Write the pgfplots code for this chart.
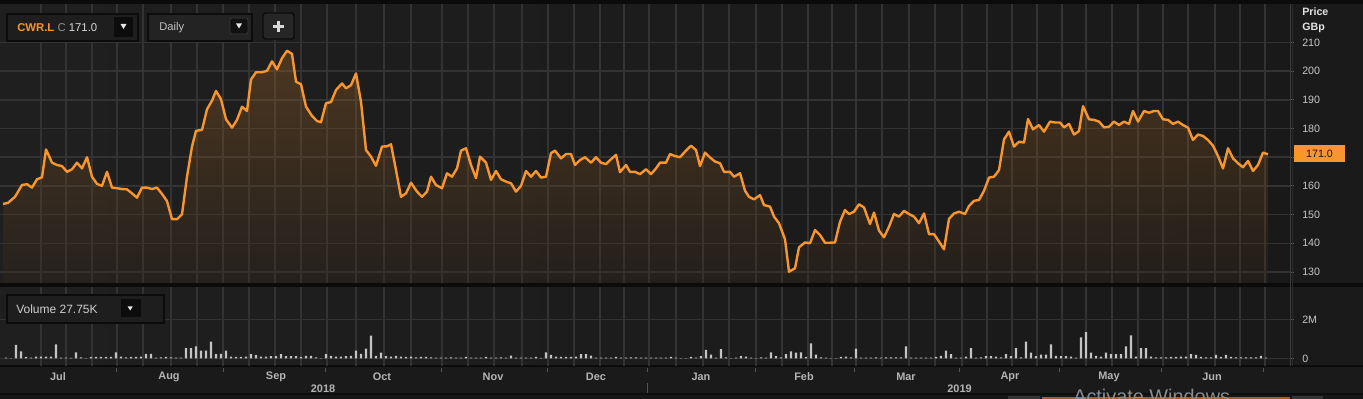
\documentclass[border=0pt]{standalone}
\usepackage{fontspec}
\setmainfont{Liberation Sans}
\usepackage{pgfplots}
\usepackage{pgfplotstable}
\pgfplotsset{compat=1.18}
\definecolor{bg}{HTML}{1C1C1C}
\definecolor{gridc}{HTML}{333333}
\definecolor{orng}{HTML}{F7952F}
\definecolor{areatop}{HTML}{B77128}
\definecolor{areabot}{HTML}{35281B}
\definecolor{lbl}{HTML}{C8C8C8}
\definecolor{mlbl}{HTML}{B4B4B4}
\definecolor{volc}{HTML}{C4C4C4}
\definecolor{blk}{HTML}{0B0B0B}
\definecolor{sep}{HTML}{3A3A3A}
\definecolor{sep2}{HTML}{2A2A2A}
\definecolor{tickc}{HTML}{5A5A5A}
\definecolor{bgl}{HTML}{1F1F1F}
\definecolor{bgr}{HTML}{191919}
\definecolor{bgs}{HTML}{1A1A1A}
\definecolor{dk1}{HTML}{0E0E0E}
\definecolor{dk2}{HTML}{161616}
\definecolor{dk3}{HTML}{0C0C0C}
\definecolor{dk4}{HTML}{111111}
\definecolor{stick}{HTML}{555555}
\definecolor{handle}{HTML}{353535}
\definecolor{scroll}{HTML}{A85E1C}
\definecolor{wm}{HTML}{8C8C8C}
\definecolor{boxa}{HTML}{1E1E1E}
\definecolor{boxb}{HTML}{232323}
\definecolor{boxc}{HTML}{262626}
\definecolor{tri}{HTML}{E8E8E8}
\definecolor{wtxt}{HTML}{E4E4E4}
\definecolor{ltxt}{HTML}{D8D8D8}
\definecolor{gtxt}{HTML}{8E8E8E}
\definecolor{dtxt}{HTML}{C0C0C0}
\definecolor{vtxt}{HTML}{CFCFCF}
\definecolor{btxt}{HTML}{151515}
\newcommand\fs[1]{\fontsize{#1}{#1}\selectfont}

\pgfplotstableread{
x y
3 153.7
8 154.1
15 156.2
22 160.3
27 160.6
32 159.4
37 162.3
42 163.0
46 172.7
52 168.1
57 167.3
62 166.9
67 164.9
72 165.8
77 168.1
82 166.1
87 170.0
92 163.2
97 160.7
102 160.0
107 164.9
112 159.4
117 159.2
122 158.9
127 158.8
132 157.4
137 155.9
142 159.4
147 159.4
152 158.9
157 159.4
162 157.2
167 154.7
172 148.4
177 148.4
182 150.1
187 163.2
192 173.7
196 179.2
202 179.5
207 186.7
212 189.7
216 193.1
221 190.2
226 183.2
232 180.3
237 183.0
242 187.6
247 186.1
251 197.1
256 199.6
262 199.6
267 200.1
272 203.4
277 200.6
282 204.5
287 207.1
292 206.0
296 196.3
301 195.4
306 187.6
312 184.4
317 182.6
321 182.2
326 188.8
331 189.2
336 193.4
342 195.7
346 194.0
351 195.1
356 199.2
361 189.3
366 172.5
371 170.2
376 167.0
382 173.7
387 173.8
391 174.5
396 165.5
401 156.2
406 157.4
411 161.1
417 158.0
422 156.2
427 158.0
431 163.2
436 160.3
442 159.2
447 164.4
452 163.2
457 166.1
461 172.3
466 173.1
471 167.3
476 162.7
480 170.2
486 168.1
491 162.1
496 165.2
501 162.3
506 161.5
511 160.9
516 158.0
521 160.0
526 165.2
531 163.2
536 165.2
541 162.9
546 163.2
551 171.4
555 172.3
561 169.6
566 171.1
571 171.1
575 167.3
580 169.0
585 170.0
591 168.1
596 170.0
601 168.1
606 167.6
611 169.3
616 170.8
620 164.8
626 167.3
630 164.9
635 164.9
640 164.1
646 165.8
651 164.1
656 166.1
660 168.1
666 168.1
670 171.1
675 170.4
680 170.0
686 172.3
691 174.0
696 172.5
700 166.9
705 171.6
710 169.9
715 168.5
720 167.9
724 164.9
730 164.9
734 163.2
740 164.4
745 158.3
749 156.2
754 155.3
760 156.8
764 153.3
770 152.8
774 149.3
779 147.0
785 141.4
789 130.1
795 131.3
799 138.6
805 140.3
810 140.0
815 144.6
820 142.9
825 140.2
830 140.2
835 140.3
840 147.5
845 151.6
849 150.2
854 151.0
859 153.6
864 152.5
870 146.7
874 150.7
879 144.4
884 142.1
889 145.8
894 150.2
899 149.3
904 151.3
909 150.2
914 149.3
919 147.0
924 150.4
929 143.2
934 143.2
939 140.6
944 137.9
949 148.5
954 150.4
959 151.0
965 150.2
969 153.0
974 154.8
979 155.1
984 158.3
989 162.9
994 163.2
999 165.5
1004 176.2
1009 178.9
1014 173.7
1019 175.4
1024 175.1
1028 183.3
1033 179.7
1039 181.2
1044 178.9
1050 182.4
1055 182.1
1060 182.1
1064 180.4
1069 181.6
1074 177.9
1079 179.1
1083 187.8
1089 183.2
1094 183.0
1099 182.4
1104 180.4
1109 180.6
1114 182.4
1119 181.2
1124 182.4
1129 181.6
1133 186.1
1138 182.4
1144 186.1
1149 185.5
1154 186.1
1158 186.1
1163 183.2
1168 183.0
1173 181.6
1178 182.4
1183 181.2
1188 180.3
1193 176.0
1198 177.9
1203 177.4
1208 176.0
1213 174.0
1218 170.4
1223 166.1
1228 173.1
1233 169.6
1238 167.9
1243 166.5
1248 168.7
1253 165.2
1258 167.3
1263 171.6
1268 171.0
}\pricedata

\pgfplotstableread{
x v
6 0.05
11 0.02
16 0.70
21 0.36
26 0.08
31 0.04
36 0.10
41 0.10
46 0.10
51 0.10
56 0.73
61 0.05
66 0.05
71 0.03
76 0.32
81 0.06
86 0.02
91 0.08
96 0.08
101 0.08
106 0.08
111 0.08
116 0.32
121 0.10
126 0.06
131 0.08
136 0.08
141 0.10
146 0.24
151 0.24
156 0.05
161 0.06
166 0.08
171 0.06
176 0.05
181 0.04
186 0.53
191 0.53
196 0.62
201 0.40
206 0.40
211 0.87
216 0.22
221 0.24
226 0.40
231 0.10
236 0.08
241 0.08
246 0.10
251 0.22
256 0.17
261 0.10
266 0.10
271 0.12
276 0.12
281 0.22
286 0.12
291 0.12
296 0.12
301 0.08
306 0.14
311 0.14
316 0.06
321 0.02
326 0.22
331 0.14
336 0.10
341 0.10
346 0.12
351 0.14
356 0.40
361 0.24
366 0.50
371 1.17
376 0.14
381 0.30
386 0.12
391 0.10
396 0.14
401 0.10
406 0.08
411 0.10
416 0.06
421 0.08
426 0.08
431 0.06
436 0.05
441 0.05
446 0.05
451 0.06
456 0.05
461 0.05
466 0.08
471 0.05
476 0.05
481 0.05
486 0.08
491 0.04
496 0.05
501 0.06
506 0.04
511 0.15
516 0.04
521 0.05
526 0.05
531 0.04
536 0.08
541 0.03
546 0.32
551 0.19
556 0.10
561 0.08
566 0.08
571 0.08
576 0.10
581 0.22
586 0.22
591 0.15
596 0.04
601 0.05
606 0.05
611 0.05
616 0.08
621 0.04
626 0.05
631 0.06
636 0.06
641 0.05
646 0.05
651 0.04
656 0.05
661 0.05
666 0.04
671 0.08
676 0.04
681 0.02
686 0.02
691 0.08
696 0.04
701 0.12
706 0.44
711 0.20
716 0.05
721 0.48
726 0.06
731 0.02
736 0.05
741 0.12
746 0.10
751 0.04
756 0.02
761 0.06
766 0.04
771 0.32
776 0.12
781 0.06
786 0.22
791 0.36
796 0.30
801 0.32
806 0.08
811 0.78
816 0.20
821 0.06
826 0.05
831 0.02
836 0.02
841 0.08
846 0.10
851 0.06
856 0.50
861 0.04
866 0.05
871 0.05
876 0.06
881 0.05
886 0.06
891 0.06
896 0.06
901 0.06
906 0.62
911 0.05
916 0.04
921 0.04
926 0.04
931 0.04
936 0.08
941 0.14
946 0.40
951 0.22
956 0.05
961 0.04
966 0.10
971 0.53
976 0.04
981 0.06
986 0.12
991 0.12
996 0.10
1001 0.06
1006 0.22
1011 0.12
1016 0.53
1021 0.06
1026 0.87
1031 0.30
1036 0.12
1041 0.20
1046 0.20
1051 0.73
1056 0.14
1061 0.12
1066 0.12
1071 0.10
1076 0.05
1081 1.08
1086 1.35
1091 0.30
1096 0.14
1101 0.10
1106 0.30
1111 0.22
1116 0.22
1121 0.22
1126 0.62
1131 1.18
1136 0.10
1141 0.53
1146 0.53
1151 0.10
1156 0.06
1161 0.06
1166 0.06
1171 0.08
1176 0.08
1181 0.10
1186 0.10
1191 0.22
1196 0.18
1201 0.08
1206 0.06
1211 0.06
1216 0.18
1221 0.08
1226 0.18
1231 0.08
1236 0.06
1241 0.06
1246 0.06
1251 0.06
1256 0.06
1261 0.14
1266 0.04
}\voldata

\pgfplotsset{
  chartbase/.style={
    anchor=south west, scale only axis, width=967.5pt,
    xmin=0, xmax=1290,
    axis line style={draw=none},
    xtick={41,66,92,117,143,171,197,223,249,275,301,327,356,384,411,442,468,494,522,548,574,600,624,649,676,703,729,756,782,808,832,856,882,909,935,962,987,1012,1037,1062,1086,1112,1138,1163,1188,1215,1240,1265},
    xticklabels={},
    xtick style={draw=none},
    ytick pos=right,
    yticklabel pos=right,
    tick align=outside,
    major tick length=3pt,
    ytick style={draw=tickc, line width=0.7pt},
    grid=major,
    grid style={draw=gridc, line width=1.1pt},
    yticklabel style={font=\fs{8}, text=lbl, anchor=west, inner sep=0pt, xshift=6pt},
    /pgf/number format/assume math mode=true,
    clip=true,
  }
}

\begin{document}
\begin{tikzpicture}[x=0.75pt,y=0.75pt]
\useasboundingbox (0,0) rectangle (1363,399);
\clip (0,0) rectangle (1363,399);
% backgrounds
\fill[bg] (0,0) rectangle (1363,399);
\shade[left color=bgl, right color=bgr] (0,116) rectangle (1290,395);
\shade[left color=bgl, right color=bgr] (0,33) rectangle (1290,112);
\fill[bgs] (1290,33) rectangle (1363,395);
\fill[blk] (0,395) rectangle (1363,399);
\fill[blk] (0,112) rectangle (1363,116);
\fill[bgs] (0,6) rectangle (1363,33);
\fill[blk] (0,32) rectangle (1363,34);
\fill[dk1] (0,4) rectangle (1363,6);
\fill[dk2] (0,0) rectangle (1363,4);

% price panel
\begin{axis}[chartbase,
  at={(0pt,87pt)}, height=209.25pt,
  ymin=126.17, ymax=223.38,
  ytick={130,140,150,160,170,180,190,200,210},
  yticklabels={130,140,150,160,{},180,190,200,210},
]
\addplot[draw=none, top color=areatop, bottom color=areabot, fill opacity=0.3, forget plot]
  table[x=x,y=y] {\pricedata} -- (1268,126.17) -- (3,126.17) -- cycle;
\addplot[color=orng, line width=1.8pt, line join=round, mark=none] table[x=x,y=y] {\pricedata};
\end{axis}

% volume panel
\begin{axis}[chartbase,
  at={(0pt,24.75pt)}, height=59.25pt,
  ymin=-0.385, ymax=3.667,
  ytick={0,2}, yticklabels={0,2M},
]
\addplot[ybar, bar width=1.7pt, bar shift=0pt, fill=volc, draw=none] table[x=x,y=v] {\voldata};
\end{axis}

% panel separators
\draw[sep, line width=0.75pt] (1290.5,33) -- (1290.5,395);
\draw[sep2, line width=0.75pt] (1292.5,33) -- (1292.5,395);

% price box
\node[fill=orng, minimum width=38.25pt, minimum height=12.75pt, inner sep=0pt, font=\fs{8}, text=btxt] at (1319.5,245.5) {171.0};
\node[anchor=west, inner sep=0pt, font=\fs{8}\bfseries, text=wtxt] at (1302,387.5) {Price};
\node[anchor=base west, inner sep=0pt, font=\fs{8}\bfseries, text=wtxt] at (1302,368) {GBp};

% x axis strip
\foreach \x in {116,223,325,441,547,647,755,854,959,1059,1161,1263}
  \draw[stick, line width=0.6pt] (\x,31) -- (\x,27);
\draw[stick, line width=0.6pt] (647,16) -- (647,6);
\foreach \x/\m in {58/Jul,169/Aug,276/Sep,382/Oct,493/Nov,596/Dec,701/Jan,804/Feb,906/Mar,1010/Apr,1109/May,1212/Jun}
  \node[inner sep=0pt, font=\fs{8.2}\bfseries, text=mlbl] at (\x,22) {\m};
\node[inner sep=0pt, font=\fs{8.2}\bfseries, text=mlbl] at (323,10.5) {2018};
\node[inner sep=0pt, font=\fs{8.2}\bfseries, text=mlbl] at (959.5,10.5) {2019};

% scrollbar
\fill[handle] (1008,0) rectangle (1040,2.5);
\fill[scroll] (1042,0) rectangle (1290,1.5);
\fill[handle] (1292,0) rectangle (1323,2.5);
\node[anchor=base west, inner sep=0pt, font=\fs{14.9}, text=wm] at (1073,-5) {Activate Windows};

% header controls
\draw[fill=boxa, draw=dk3, line width=1.1pt] (7,358) rectangle (138,385);
\node[anchor=west, inner sep=0pt, font=\fs{8.5}] at (17,371.5) {\textcolor{orng}{\bfseries CWR.L} \textcolor{gtxt}{C} \textcolor{ltxt}{171.0}};
\fill[dk3] (114,362) rectangle (133,382);
\fill[tri] (120.5,375) -- (126.5,375) -- (123.5,370) -- cycle;

\draw[fill=boxb, draw=dk3, line width=1.1pt] (148,358) rectangle (252,385);
\node[anchor=west, inner sep=0pt, font=\fs{8.4}, text=dtxt] at (159,371.5) {Daily};
\draw[fill=dk4, draw=sep, line width=0.5pt, rounded corners=1.5pt] (230,365) rectangle (248,381);
\fill[tri] (236,375.5) -- (242,375.5) -- (239,370.5) -- cycle;

\draw[fill=boxc, draw=dk3, line width=1.1pt, rounded corners=2pt] (263,360) rectangle (294,386);
\draw[ltxt, line width=2.2pt] (272.8,372.5) -- (283.8,372.5);
\draw[ltxt, line width=2.2pt] (278.3,367) -- (278.3,378);

% volume box
\draw[fill=boxa, draw=blk, line width=1.1pt] (7,76) rectangle (164,104);
\node[anchor=west, inner sep=0pt, font=\fs{9}, text=vtxt] at (16,90) {Volume 27.75K};
\fill[dk3] (121,82) rectangle (141,100);
\fill[tri] (127.7,92.5) -- (132.7,92.5) -- (130.2,88.5) -- cycle;
\end{tikzpicture}
\end{document}
